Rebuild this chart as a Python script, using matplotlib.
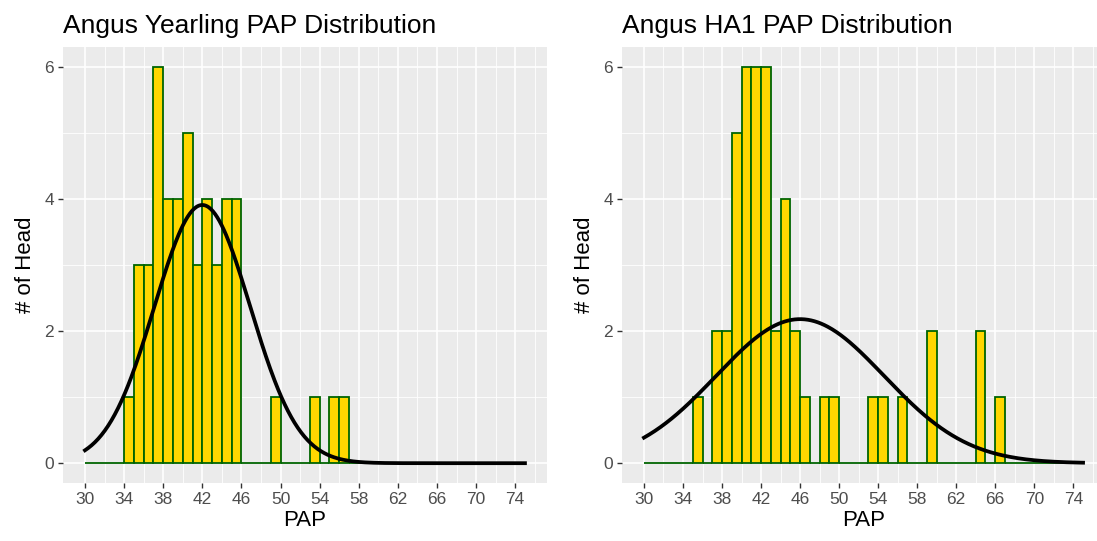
import matplotlib
matplotlib.use("Agg")
import matplotlib.pyplot as plt
import numpy as np

plt.rcParams['font.family'] = ['Liberation Sans', 'DejaVu Sans']

# histogram bins (binwidth 1) from 30 to 75
bin_starts = np.arange(30, 75)
yearling_counts = [0, 0, 0, 0, 1, 3, 3, 6, 4, 4, 5, 3, 4, 3, 4, 4, 0, 0, 0, 1,
                   0, 0, 0, 1, 0, 1, 1, 0, 0, 0, 0, 0, 0, 0, 0, 0, 0, 0, 0, 0,
                   0, 0, 0, 0, 0]
ha1_counts = [0, 0, 0, 0, 0, 1, 0, 2, 2, 5, 6, 6, 6, 2, 4, 2, 1, 0, 1, 1,
              0, 0, 0, 1, 1, 0, 1, 0, 0, 2, 0, 0, 0, 0, 2, 0, 1, 0, 0, 0,
              0, 0, 0, 0, 0]

# normal curve parameters (mean, sd)
yearling_mean, yearling_sd = 42.0, 4.9
ha1_mean, ha1_sd = 46.0, 8.6

titles = ["Angus Yearling PAP Distribution", "Angus HA1 PAP Distribution"]
x_ticks = np.arange(30, 75, 4)
x_minor = np.arange(32, 77, 4)

fig = plt.figure(figsize=(10.97, 5.41), dpi=100)
ax1 = fig.add_axes([0.0574, 0.1072, 0.4412, 0.806])
ax2 = fig.add_axes([0.567, 0.1072, 0.4403, 0.806])

panels = [(ax1, yearling_counts, yearling_mean, yearling_sd, titles[0]),
          (ax2, ha1_counts, ha1_mean, ha1_sd, titles[1])]

for ax, counts, mu, sd, title in panels:
    ax.set_facecolor('#EBEBEB')
    for s in ax.spines.values():
        s.set_visible(False)
    # grid
    for v in x_minor:
        ax.axvline(v, color='white', lw=0.6, zorder=0)
    for v in [1, 3, 5]:
        ax.axhline(v, color='white', lw=0.6, zorder=0)
    for v in x_ticks:
        ax.axvline(v, color='white', lw=1.2, zorder=0)
    for v in [0, 2, 4, 6]:
        ax.axhline(v, color='white', lw=1.2, zorder=0)

    ax.bar(bin_starts, counts, width=1, align='edge', color='#FFD700',
           edgecolor='#006400', linewidth=1.3, zorder=2)

    n = sum(counts)
    xs = np.linspace(30, 75, 400)
    ys = n / (sd * np.sqrt(2 * np.pi)) * np.exp(-(xs - mu) ** 2 / (2 * sd ** 2))
    ax.plot(xs, ys, color='black', lw=2.7, zorder=3)

    ax.set_xlim(27.75, 77.25)
    ax.set_ylim(-0.3, 6.3)
    ax.set_xticks(x_ticks)
    ax.set_yticks([0, 2, 4, 6])
    ax.tick_params(axis='both', length=3.5, width=1.0, color='#333333',
                   labelcolor='#4D4D4D', labelsize=12.5, pad=3)
    ax.set_xlabel("PAP", fontsize=16, labelpad=2)
    ax.set_ylabel("# of Head", fontsize=16, labelpad=6)
    ax.set_title(title, fontsize=19, loc='left', x=0, pad=10)

fig.savefig("out.png", dpi=100)
